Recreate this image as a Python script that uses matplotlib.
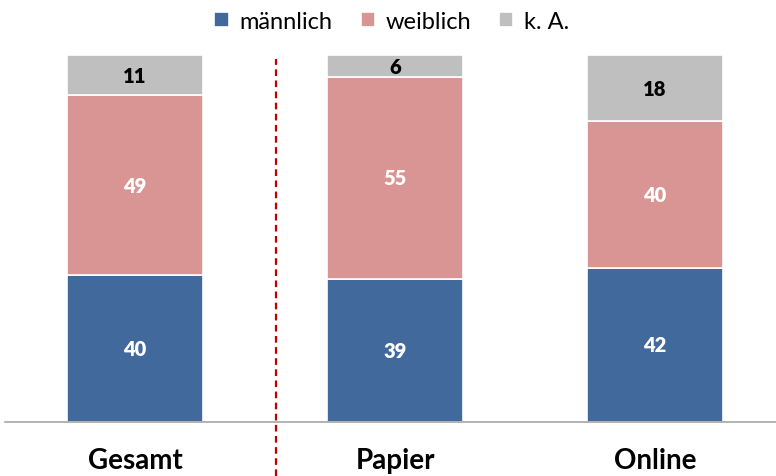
import matplotlib
matplotlib.use("Agg")
import matplotlib.pyplot as plt
import numpy as np

# data
categories = ["Gesamt", "Papier", "Online"]
series_names = ["männlich", "weiblich", "k. A."]
maennlich = [40, 39, 42]
weiblich = [49, 55, 40]
keine_angabe = [11, 6, 18]

colors = ["#41699C", "#D99594", "#BFBFBF"]
label_colors = ["white", "white", "black"]

plt.rcParams["font.family"] = ["Lato", "DejaVu Sans"]

fig = plt.figure(figsize=(7.76, 4.77), dpi=100)
ax = fig.add_axes([5 / 776, 54 / 477, 771 / 776, 367 / 477])

x = np.arange(len(categories))
width = 0.52
bottom = np.zeros(len(categories))
handles = []
for vals, name, col, lcol in zip([maennlich, weiblich, keine_angabe], series_names, colors, label_colors):
    vals = np.array(vals, dtype=float)
    bars = ax.bar(x, vals, width, bottom=bottom, color=col, edgecolor="white", linewidth=1.2, label=name)
    handles.append(bars)
    for xi, v, b in zip(x, vals, bottom):
        ax.text(xi, b + v / 2, f"{int(v)}", ha="center", va="center", color=lcol,
                fontsize=14.5, fontweight="heavy")
    bottom += vals

ax.set_xlim(-0.5, 2.465)
ax.set_ylim(0, 100)

# separator line between total and subgroups
ax.plot([0.542, 0.542], [-14.7, 99], color="#C00000", linestyle=(0, (3, 2)), linewidth=1.6, clip_on=False)

for s in ["top", "right", "left"]:
    ax.spines[s].set_visible(False)
ax.spines["bottom"].set_color("#A6A6A6")
ax.spines["bottom"].set_linewidth(1.2)
ax.set_yticks([])
ax.set_xticks(x)
ax.set_xticklabels(categories, fontsize=20, fontweight="bold")
ax.tick_params(axis="x", length=0, pad=18)

fig.legend(handles=handles, labels=series_names, loc="upper center", bbox_to_anchor=(0.505, 1.02),
           ncol=3, frameon=False, fontsize=17, handlelength=0.6, handleheight=0.6,
           handletextpad=0.45, columnspacing=1.2)

fig.savefig("out.png", dpi=100)
